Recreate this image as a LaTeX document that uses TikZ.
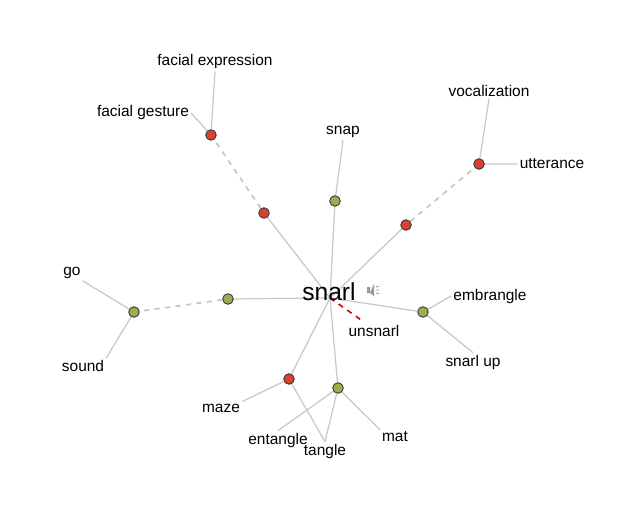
\documentclass[tikz,border=0pt]{standalone}
\usepackage{fontspec}
\setmainfont{Liberation Sans}
\usetikzlibrary{backgrounds}
\definecolor{rd}{HTML}{D9432E}
\definecolor{gr}{HTML}{9BAE4C}
\begin{document}
\begin{tikzpicture}[x=0.02cm,y=-0.02cm,
  lnk/.style={draw=black!22,line width=0.7pt},
  dsh/.style={draw=black!22,line width=1pt,dashed},
  rdot/.style={circle,draw=black!80,fill=rd,inner sep=0pt,minimum size=6pt,line width=0.5pt},
  gdot/.style={circle,draw=black!80,fill=gr,inner sep=0pt,minimum size=6pt,line width=0.5pt},
  lab/.style={font=\fontsize{8.8pt}{10pt}\selectfont,inner sep=1pt}]
\useasboundingbox (0,0) rectangle (639,507);
\node[font=\fontsize{14pt}{16pt}\selectfont,inner sep=1pt] (c) at (329,292) {snarl};
\coordinate (cc) at (330,298);
% speaker
\fill[black!40] (367,287) rectangle (370,293) -- (374,284) -- (374,296) -- (370,293);
\draw[black!40,line width=0.5pt] (376,287)--(379,286) (376,290)--(379,290) (376,293)--(379,294);
\node[rdot] (r1) at (264,213) {};
\node[rdot] (r2) at (211,135) {};
\node[gdot] (g1) at (335,201) {};
\node[rdot] (r3) at (406,225) {};
\node[rdot] (r4) at (479,164) {};
\node[gdot] (g2) at (228,299) {};
\node[gdot] (g3) at (134,312) {};
\node[gdot] (g4) at (423,312) {};
\node[rdot] (r5) at (289,379) {};
\node[gdot] (g5) at (338,388) {};
\node[lab] (fe) at (215,62) {facial expression};
\node[lab] (fg) at (143,113) {facial gesture};
\node[lab] (sn) at (343,132) {snap};
\node[lab] (vo) at (489,91) {vocalization};
\node[lab] (ut) at (552,164) {utterance};
\node[lab] (go) at (72,273) {go};
\node[lab] (so) at (83,366) {sound};
\node[lab] (em) at (490,296) {embrangle};
\node[lab] (su) at (473,362) {snarl up};
\node[lab] (un) at (374,331) {unsnarl};
\node[lab] (ma) at (221,408) {maze};
\node[lab] (ent) at (278,440) {entangle};
\node[lab] (ta) at (325,451) {tangle};
\node[lab] (mt) at (395,437) {mat};
\coordinate (une) at (364,322);
\begin{scope}[on background layer]
\draw[lnk] (cc)--(r1) (cc)--(g1) (cc)--(r3) (cc)--(g2) (cc)--(g4) (cc)--(r5) (cc)--(g5);
\draw[dsh] (r1)--(r2) (r3)--(r4) (g2)--(g3);
\draw[lnk] (r2)--(fg.east) (r2)--(fe.south) (g1)--(sn.south);
\draw[lnk] (r4)--(vo.south) (r4)--(ut.west);
\draw[lnk] (g3)--(go.south east) (g3)--(so.north east);
\draw[lnk] (g4)--(em.west) (g4)--(su.north);
\draw[lnk] (r5)--(ma.north east) (r5)--(ta.north);
\draw[lnk] (g5)--(ent.north) (g5)--(ta.north) (g5)--(mt.north west);
\draw[red!75!black,dashed,line width=0.9pt] (cc)--(une);
\end{scope}
\end{tikzpicture}
\end{document}
